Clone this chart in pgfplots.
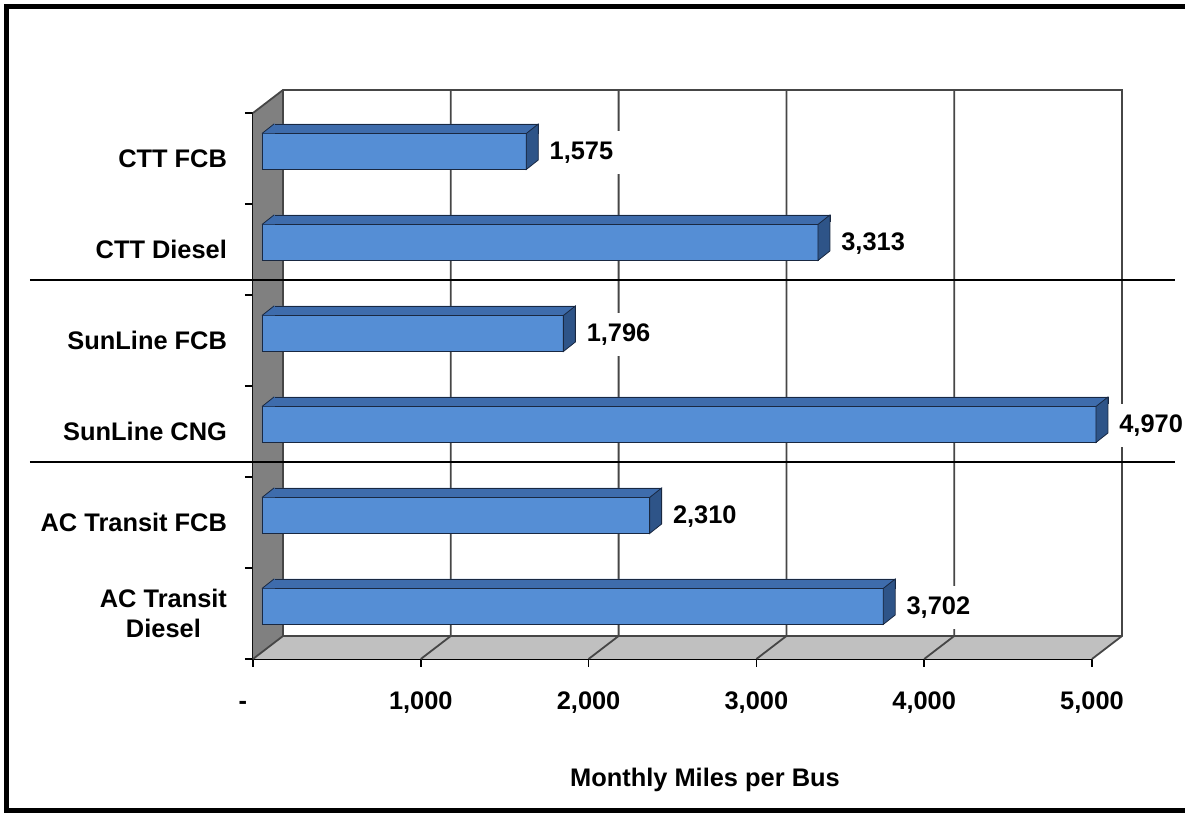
\documentclass[border=0pt]{standalone}
\usepackage{pgfplots}
\pgfplotsset{compat=1.18}
\usepackage{pgfplotstable}
\usepackage{fontspec}
\setmainfont{Liberation Sans}
\definecolor{barfront}{RGB}{85,142,213}
\definecolor{bartop}{RGB}{62,108,172}
\definecolor{barside}{RGB}{46,84,136}
\definecolor{baredge}{RGB}{25,40,65}
\definecolor{wallgray}{RGB}{128,128,128}
\definecolor{floorgray}{RGB}{192,192,192}
\definecolor{gridc}{RGB}{70,70,70}
\newcommand{\lblfont}{\bfseries\fontsize{12.7}{15}\selectfont}

% side face of a bar, drawn at the right end of the front face
\pgfdeclareplotmark{sideface}{%
  \pgfpathmoveto{\pgfqpoint{0pt}{-9pt}}%
  \pgfpathlineto{\pgfqpoint{0pt}{9pt}}%
  \pgfpathlineto{\pgfqpoint{6pt}{13.75pt}}%
  \pgfpathlineto{\pgfqpoint{6pt}{-4.25pt}}%
  \pgfpathclose
  \pgfusepathqfillstroke}
% slanted left corner of the top face
\pgfdeclareplotmark{topleft}{%
  \pgfpathmoveto{\pgfqpoint{0pt}{9pt}}%
  \pgfpathlineto{\pgfqpoint{6pt}{13.75pt}}%
  \pgfpathlineto{\pgfqpoint{6.5pt}{13.75pt}}%
  \pgfpathlineto{\pgfqpoint{6.5pt}{9pt}}%
  \pgfpathclose
  \pgfusepathqfill
  \pgfpathmoveto{\pgfqpoint{0pt}{9pt}}%
  \pgfpathlineto{\pgfqpoint{6pt}{13.75pt}}%
  \pgfusepathqstroke}

\pgfplotstableread{
y v
0.5 3702
1.5 2310
2.5 4970
3.5 1796
4.5 3313
5.5 1575
}\bardata

\begin{document}
\begin{tikzpicture}
\path[use as bounding box] (-126.5pt,-77pt) rectangle (466pt,329.5pt);
\begin{axis}[
  anchor=origin, at={(0,0)},
  x=0.0839pt, y=45.5pt,
  xmin=0, xmax=5000, ymin=0, ymax=6,
  clip=false,
  axis x line*=bottom, axis y line*=left,
  axis line style={black, line width=0.8pt, -},
  xtick={0,1000,...,5000},
  xticklabels={{\llap{-\hspace{3pt}}},{1,000},{2,000},{3,000},{4,000},{5,000}},
  ytick={0.5,1.5,...,5.5},
  yticklabels={{AC Transit\\Diesel},{AC Transit FCB},{SunLine CNG},{SunLine FCB},{CTT Diesel},{CTT FCB}},
  minor ytick={0,1,...,6},
  tick align=outside,
  major tick length=4pt, minor tick length=4pt,
  major y tick style={draw=none},
  tick style={black, line width=0.8pt},
  tick label style={font=\lblfont},
  yticklabel style={align=center, anchor=east, xshift=-5.5pt},
  xticklabel style={anchor=base, yshift=-21.2pt},
  xlabel={Monthly Miles per Bus},
  xlabel style={font=\lblfont, at={(rel axis cs:0.5387,0)}, anchor=base, yshift=-63.75pt},
]
% floor
\fill[floorgray] (axis cs:0,0) -- (axis cs:178.8,0.2527) -- (axis cs:5178.8,0.2527) -- (axis cs:5000,0) -- cycle;
% left wall
\fill[wallgray] (axis cs:0,0) -- (axis cs:0,6) -- (axis cs:178.8,6.2527) -- (axis cs:178.8,0.2527) -- cycle;
% back wall outline and grid
\draw[gridc, line width=0.9pt] (axis cs:0,6) -- (axis cs:178.8,6.2527) -- (axis cs:5178.8,6.2527) -- (axis cs:5178.8,0.2527) -- (axis cs:5000,0);
\draw[gridc, line width=0.9pt] (axis cs:178.8,6.2527) -- (axis cs:178.8,0.2527) -- (axis cs:0,0);
\draw[gridc, line width=0.9pt] (axis cs:178.8,0.2527) -- (axis cs:5178.8,0.2527);
\draw[gridc, line width=0.9pt] (axis cs:1178.8,6.2527) -- (axis cs:1178.8,0.2527) -- (axis cs:1000,0);
\draw[gridc, line width=0.9pt] (axis cs:2178.8,6.2527) -- (axis cs:2178.8,0.2527) -- (axis cs:2000,0);
\draw[gridc, line width=0.9pt] (axis cs:3178.8,6.2527) -- (axis cs:3178.8,0.2527) -- (axis cs:3000,0);
\draw[gridc, line width=0.9pt] (axis cs:4178.8,6.2527) -- (axis cs:4178.8,0.2527) -- (axis cs:4000,0);
% separators
\draw[black, line width=0.8pt] (axis cs:-1329,4.165) -- (axis cs:5495,4.165);
\draw[black, line width=0.8pt] (axis cs:-1329,2.165) -- (axis cs:5495,2.165);
% bars: top face
\addplot[xbar, bar width=4.75pt, bar shift=14.875pt, xshift=10.5pt, fill=bartop, draw=baredge, line width=0.4pt] table[x=v,y=y]{\bardata};
\addplot[only marks, mark=topleft, xshift=4.5pt, yshift=3.5pt, mark options={fill=bartop, draw=baredge, line width=0.4pt}] table[x expr=0,y=y]{\bardata};
% front face and labels
\addplot[xbar, bar width=18pt, bar shift=3.5pt, xshift=4.5pt, fill=barfront, draw=baredge, line width=0.4pt,
  nodes near coords, point meta=x,
  every node near coord/.append style={anchor=west, xshift=6pt, yshift=3pt, fill=white, inner sep=5.5pt, text=black, font=\lblfont,
    /pgf/number format/1000 sep={,}, /pgf/number format/fixed, /pgf/number format/assume math mode=true}
  ] table[x=v,y=y]{\bardata};
% side face
\addplot[only marks, mark=sideface, xshift=4.5pt, yshift=3.5pt, mark options={fill=barside, draw=baredge, line width=0.4pt}] table[x=v,y=y]{\bardata};
\end{axis}
% outer frame
\draw[black, line width=2.5pt] (470pt,326.25pt) -- (-123.25pt,326.25pt) -- (-123.25pt,-75.75pt) -- (470pt,-75.75pt);
\end{tikzpicture}
\end{document}
